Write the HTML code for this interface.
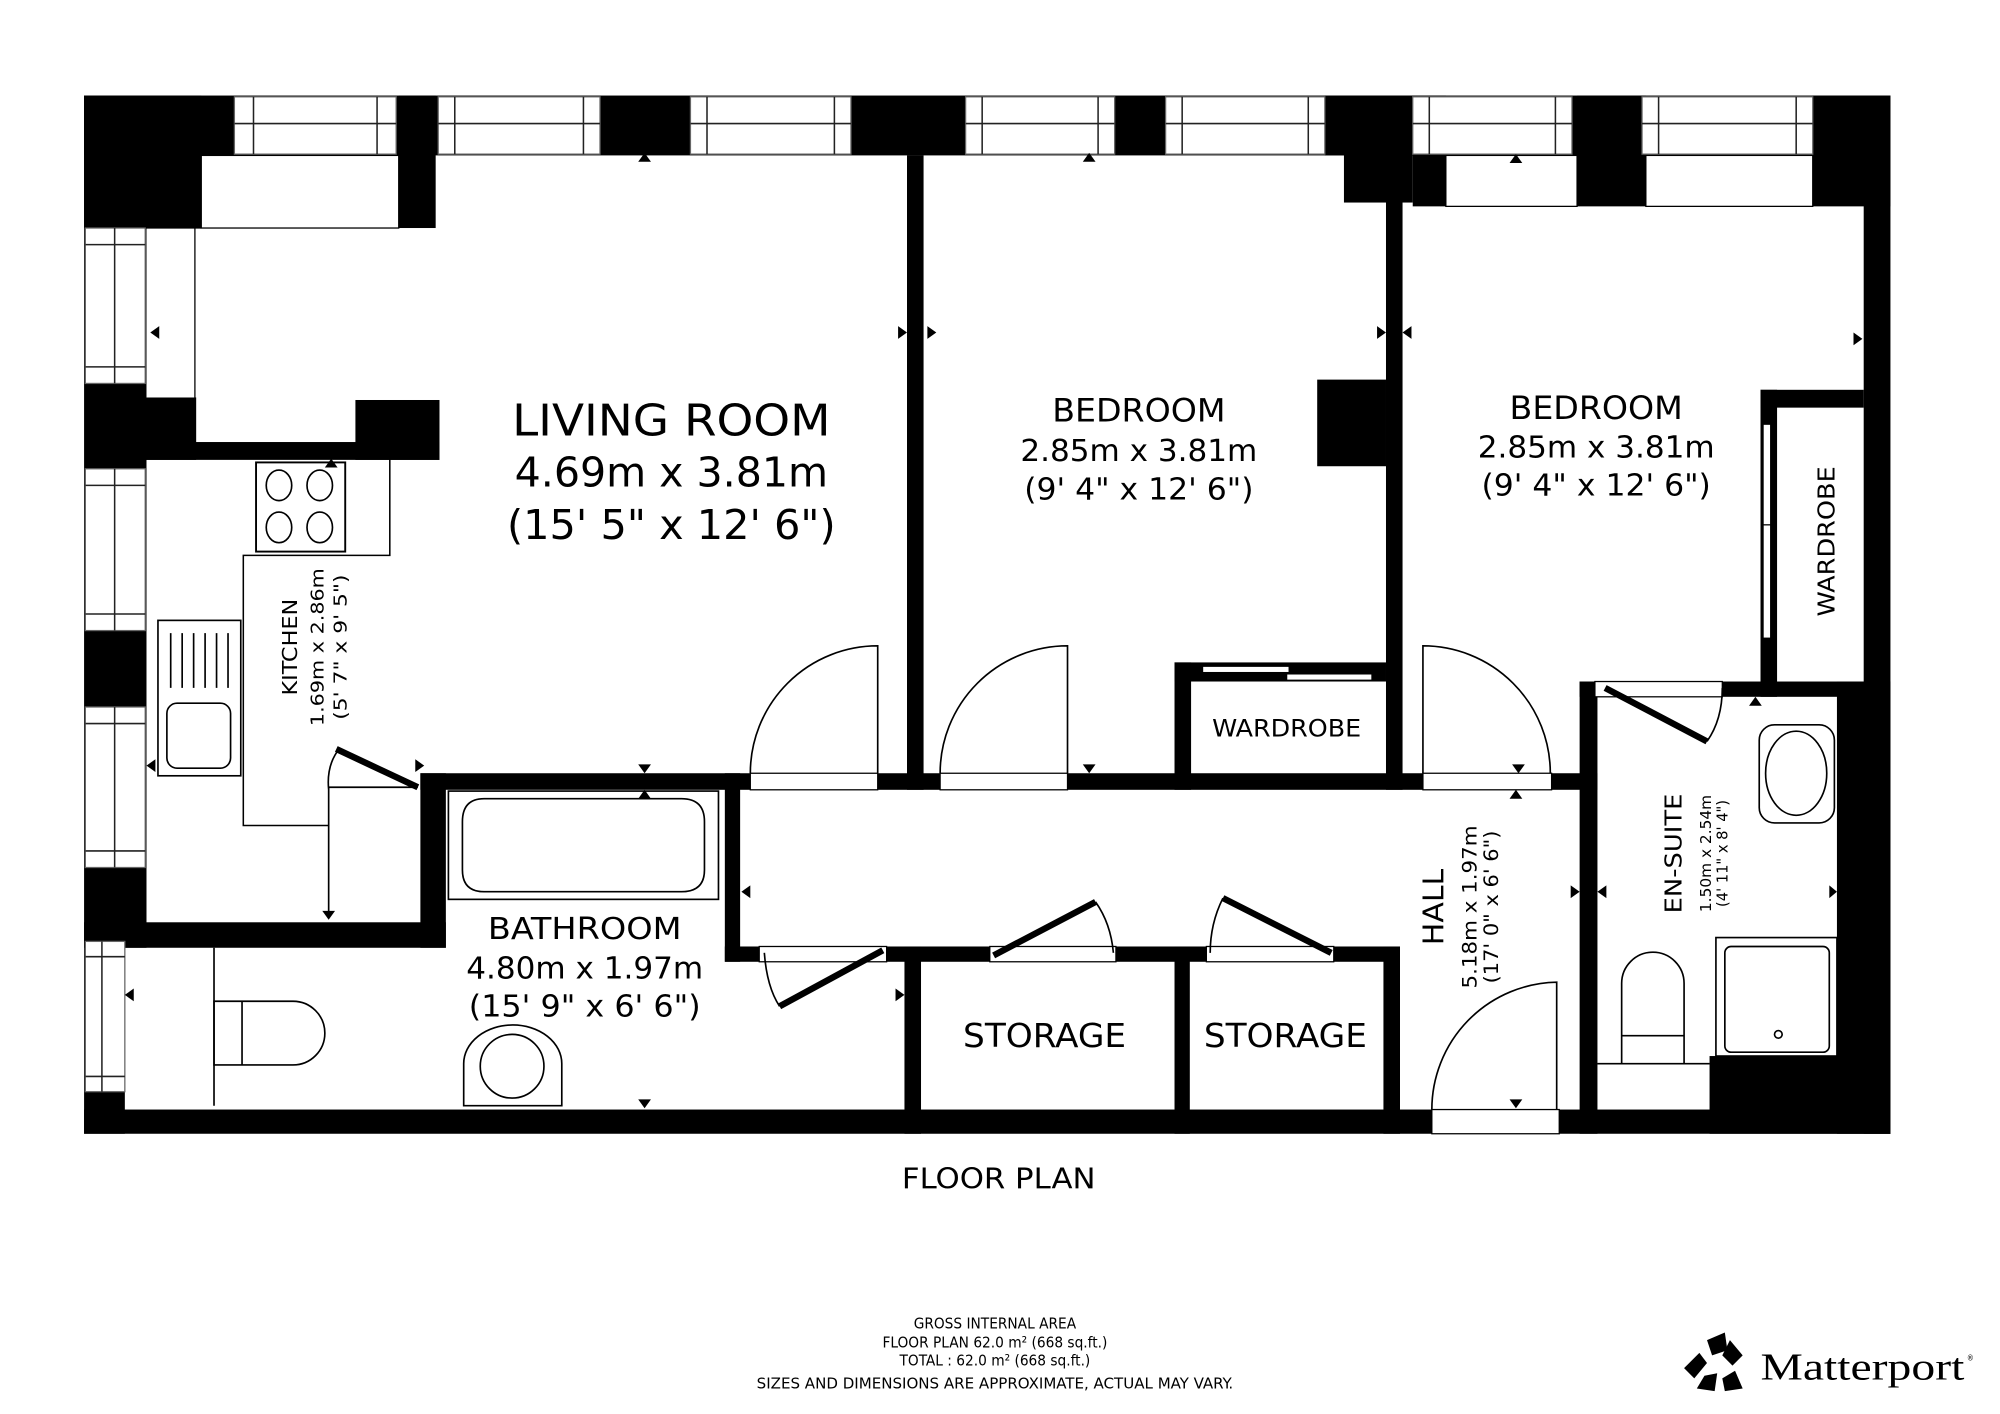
<!DOCTYPE html>
<html><head><meta charset="utf-8"><style>
html,body{margin:0;padding:0;background:#fff}
svg{display:block}
text{font-family:"DejaVu Sans Condensed","Liberation Sans",sans-serif;fill:#000}
</style></head><body>
<svg width="2000" height="1414" viewBox="0 0 1570 1110" preserveAspectRatio="none" xmlns="http://www.w3.org/2000/svg">
<rect width="1570" height="1110" fill="#fff"/>
<g fill="#000">
<rect x="66" y="75" width="1418" height="47"/>
<rect x="66" y="75" width="49" height="669"/>
<rect x="66" y="739" width="32" height="151"/>
<rect x="66" y="75" width="92" height="104"/>
<rect x="313" y="75" width="29" height="104"/>
<rect x="115" y="312" width="39" height="49"/>
<rect x="115" y="347" width="230" height="14"/>
<rect x="279" y="314" width="66" height="47"/>
<rect x="66" y="724" width="284" height="20"/>
<rect x="330" y="607" width="20" height="137"/>
<rect x="330" y="607" width="924" height="13"/>
<rect x="569" y="607" width="12" height="148"/>
<rect x="569" y="743" width="530" height="12"/>
<rect x="710" y="743" width="13" height="147"/>
<rect x="922" y="743" width="12" height="147"/>
<rect x="1086" y="743" width="13" height="147"/>
<rect x="66" y="871" width="1418" height="19"/>
<rect x="712" y="122" width="13" height="498"/>
<rect x="1040" y="75" width="69" height="47"/>
<rect x="1055" y="75" width="54" height="84"/>
<rect x="1088" y="140" width="13" height="480"/>
<rect x="1034" y="298" width="54" height="68"/>
<rect x="922" y="520" width="13" height="100"/>
<rect x="922" y="520" width="166" height="15"/>
<rect x="1109" y="75" width="26" height="87"/>
<rect x="1238" y="75" width="54" height="87"/>
<rect x="1423" y="75" width="61" height="87"/>
<rect x="1463" y="75" width="21" height="815"/>
<rect x="1382" y="306" width="81" height="14"/>
<rect x="1382" y="306" width="13" height="241"/>
<rect x="1240" y="535" width="244" height="12"/>
<rect x="1240" y="535" width="14" height="355"/>
<rect x="1442" y="535" width="42" height="355"/>
<rect x="1342" y="829" width="142" height="61"/>
</g>
<g fill="#fff" stroke="#000" stroke-width="1">
<rect x="158" y="122" width="155" height="57"/>
<rect x="1135" y="122" width="103" height="40"/>
<rect x="1292" y="122" width="131" height="40"/>
<rect x="589" y="607" width="100" height="13"/>
<rect x="738" y="607" width="100" height="13"/>
<rect x="1117" y="607" width="101" height="13"/>
<rect x="596" y="743" width="100" height="12"/>
<rect x="777" y="743" width="99" height="12"/>
<rect x="947" y="743" width="100" height="12"/>
<rect x="1124" y="871" width="100" height="19"/>
<rect x="1252" y="535" width="100" height="12"/>
<rect x="944" y="523" width="68" height="5"/>
<rect x="1010" y="529" width="67" height="5"/>
<rect x="1384" y="333" width="6" height="80"/>
<rect x="1384" y="412" width="6" height="89"/>
</g>
<rect x="115" y="179" width="38" height="133" fill="#fff"/>
<line x1="153" y1="179" x2="153" y2="347" stroke="#000" stroke-width="1"/>
<line x1="115" y1="179" x2="158" y2="179" stroke="#000" stroke-width="1"/>
<g fill="#fff" stroke="#666" stroke-width="1">
<rect x="184" y="76" width="127" height="45"/><rect x="344" y="76" width="127" height="45"/><rect x="542" y="76" width="126" height="45"/>
<rect x="758" y="76" width="117" height="45"/><rect x="915" y="76" width="125" height="45"/><rect x="1109" y="76" width="125" height="45"/><rect x="1289" y="76" width="134" height="45"/>
<rect x="67" y="179" width="47" height="122"/><rect x="67" y="368" width="47" height="127"/><rect x="67" y="555" width="47" height="126"/><rect x="67" y="739" width="31" height="118"/>
</g>
<g stroke="#222" stroke-width="1.2" fill="none">
<path d="M184,97H311M199,76V121M296,76V121M344,97H471M357,76V121M458,76V121M542,97H668M555,76V121M655,76V121M758,97H875M771,76V121M862,76V121M915,97H1040M928,76V121M1027,76V121M1109,97H1234M1122,76V121M1221,76V121M1289,97H1423M1302,76V121M1410,76V121"/>
<path d="M90,179V301M67,192H114M67,288H114M90,368V495M67,381H114M67,482H114M90,555V681M67,568H114M67,668H114M80,739V857M67,751H98M67,845H98"/>
</g>
<path d="M115,360H306V436H191V648H258" fill="none" stroke="#000" stroke-width="1.2"/>
<rect x="201" y="363" width="70" height="70" fill="#fff" stroke="#000" stroke-width="1.5"/>
<g fill="none" stroke="#000" stroke-width="1.3">
<ellipse cx="219" cy="381" rx="10" ry="12"/><ellipse cx="251" cy="381" rx="10" ry="12"/><ellipse cx="219" cy="414" rx="10" ry="12"/><ellipse cx="251" cy="414" rx="10" ry="12"/>
<rect x="124" y="487" width="65" height="122"/><rect x="131" y="552" width="50" height="51" rx="8"/>
<path d="M134,497V540M143,497V540M152,497V540M161,497V540M170,497V540M179,497V540"/>
</g>
<g fill="none" stroke="#000" stroke-width="1.3">
<path d="M689,607V507A100,100 0 0 0 589,607"/>
<path d="M838,607V507A100,100 0 0 0 738,607"/>
<path d="M1117,607V507A100,100 0 0 1 1217,607"/>
<path d="M1222,871V771A100,100 0 0 0 1124,871"/>
<path d="M267,587Q256,600 258,620M258,618H328M258,618V720"/>
<path d="M600,748Q602,775 612,790"/>
<path d="M860,708Q872,725 874,748"/>
<path d="M960,705Q950,725 950,748"/>
<path d="M1340,582Q1352,565 1352,540"/>
</g>
<g stroke="#000" stroke-width="5">
<line x1="328" y1="618" x2="264" y2="588"/>
<line x1="693" y1="746" x2="612" y2="790"/>
<line x1="780" y1="750" x2="860" y2="708"/>
<line x1="1045" y1="748" x2="960" y2="705"/>
<line x1="1260" y1="540" x2="1340" y2="582"/>
</g>
<g fill="none" stroke="#000" stroke-width="1.3">
<rect x="352" y="621" width="212" height="85"/>
<path d="M380,627H535Q553,627 553,645V683Q553,700 535,700H380Q363,700 363,683V645Q363,627 380,627Z"/>
<path d="M168,744V868"/>
<path d="M168,786H230A25,25 0 0 1 230,836H168ZM190,786V836"/>
<path d="M364,868V835A38,30 0 0 1 441,835V868Z"/>
<circle cx="402" cy="837" r="25"/>
<path d="M1273,835V772A24,24 0 0 1 1322,772V835ZM1273,813H1322M1254,835H1342"/>
<rect x="1347" y="736" width="95" height="93"/>
<rect x="1354" y="743" width="82" height="83" rx="5"/>
<circle cx="1396" cy="812" r="3"/>
<rect x="1381" y="569" width="59" height="77" rx="12"/>
<ellipse cx="1410" cy="607" rx="24" ry="33"/>
</g>
<g fill="#000">
<path d="M501,127L506,120L511,127Z"/><path d="M850,127L855,120L860,127Z"/><path d="M1185,128L1190,121L1195,128Z"/>
<path d="M125,256L118,261L125,266Z"/><path d="M705,256L712,261L705,266Z"/><path d="M728,256L735,261L728,266Z"/>
<path d="M1081,256L1088,261L1081,266Z"/><path d="M1108,256L1101,261L1108,266Z"/>
<path d="M1455,261L1462,266L1455,271Z"/><path d="M255,367L260,360L265,367Z"/>
<path d="M122,596L115,601L122,606Z"/><path d="M326,596L333,601L326,606Z"/>
<path d="M501,600L506,607L511,600Z"/><path d="M501,627L506,620L511,627Z"/>
<path d="M850,600L855,607L860,600Z"/><path d="M1187,600L1192,607L1197,600Z"/><path d="M1185,627L1190,620L1195,627Z"/>
<path d="M253,715L258,722L263,715Z"/>
<path d="M105,776L98,781L105,786Z"/><path d="M589,695L582,700L589,705Z"/><path d="M703,776L710,781L703,786Z"/>
<path d="M501,863L506,870L511,863Z"/><path d="M1185,863L1190,870L1195,863Z"/>
<path d="M1233,695L1240,700L1233,705Z"/><path d="M1261,695L1254,700L1261,705Z"/><path d="M1436,695L1442,700L1436,705Z"/>
<path d="M1373,554L1378,547L1383,554Z"/>
</g>
<g text-anchor="middle">
<text x="527" y="342" font-size="34" textLength="250" lengthAdjust="spacingAndGlyphs">LIVING ROOM</text>
<text x="527" y="382" font-size="32" textLength="246" lengthAdjust="spacingAndGlyphs">4.69m x 3.81m</text>
<text x="527" y="423" font-size="32" textLength="258" lengthAdjust="spacingAndGlyphs">(15' 5" x 12' 6")</text>
<text x="894" y="331" font-size="25" textLength="136" lengthAdjust="spacingAndGlyphs">BEDROOM</text>
<text x="894" y="362" font-size="24" textLength="186" lengthAdjust="spacingAndGlyphs">2.85m x 3.81m</text>
<text x="894" y="392" font-size="24" textLength="180" lengthAdjust="spacingAndGlyphs">(9' 4" x 12' 6")</text>
<text x="1253" y="329" font-size="25" textLength="136" lengthAdjust="spacingAndGlyphs">BEDROOM</text>
<text x="1253" y="359" font-size="24" textLength="186" lengthAdjust="spacingAndGlyphs">2.85m x 3.81m</text>
<text x="1253" y="389" font-size="24" textLength="180" lengthAdjust="spacingAndGlyphs">(9' 4" x 12' 6")</text>
<text x="1010" y="578" font-size="19" textLength="117" lengthAdjust="spacingAndGlyphs">WARDROBE</text>
<text x="459" y="737" font-size="24" textLength="152" lengthAdjust="spacingAndGlyphs">BATHROOM</text>
<text x="459" y="768" font-size="24" textLength="186" lengthAdjust="spacingAndGlyphs">4.80m x 1.97m</text>
<text x="459" y="798" font-size="24" textLength="182" lengthAdjust="spacingAndGlyphs">(15' 9" x 6' 6")</text>
<text x="820" y="822" font-size="26" textLength="128" lengthAdjust="spacingAndGlyphs">STORAGE</text>
<text x="1009" y="822" font-size="26" textLength="128" lengthAdjust="spacingAndGlyphs">STORAGE</text>
<text x="784" y="933" font-size="22" textLength="152" lengthAdjust="spacingAndGlyphs">FLOOR PLAN</text>
<text transform="translate(1440,425) rotate(-90)" font-size="18" textLength="118" lengthAdjust="spacingAndGlyphs">WARDROBE</text>
<text transform="translate(233,508) rotate(-90)" font-size="16" textLength="76" lengthAdjust="spacingAndGlyphs">KITCHEN</text>
<text transform="translate(254,508) rotate(-90)" font-size="14" textLength="124" lengthAdjust="spacingAndGlyphs">1.69m x 2.86m</text>
<text transform="translate(272,508) rotate(-90)" font-size="14" textLength="114" lengthAdjust="spacingAndGlyphs">(5' 7" x 9' 5")</text>
<text transform="translate(1133,712) rotate(-90)" font-size="22" textLength="60" lengthAdjust="spacingAndGlyphs">HALL</text>
<text transform="translate(1159,712) rotate(-90)" font-size="15" textLength="128" lengthAdjust="spacingAndGlyphs">5.18m x 1.97m</text>
<text transform="translate(1176,712) rotate(-90)" font-size="15" textLength="120" lengthAdjust="spacingAndGlyphs">(17' 0" x 6' 6")</text>
<text transform="translate(1320,670) rotate(-90)" font-size="18" textLength="94" lengthAdjust="spacingAndGlyphs">EN-SUITE</text>
<text transform="translate(1343,670) rotate(-90)" font-size="12" textLength="92" lengthAdjust="spacingAndGlyphs">1.50m x 2.54m</text>
<text transform="translate(1356,670) rotate(-90)" font-size="12" textLength="84" lengthAdjust="spacingAndGlyphs">(4' 11" x 8' 4")</text>
<text x="781" y="1043" font-size="12" fill="#333">GROSS INTERNAL AREA</text>
<text x="781" y="1058" font-size="12">FLOOR PLAN 62.0 m² (668 sq.ft.)</text>
<text x="781" y="1072" font-size="12">TOTAL :  62.0 m² (668 sq.ft.)</text>
<text x="781" y="1090" font-size="12" fill="#555" textLength="374" lengthAdjust="spacingAndGlyphs">SIZES AND DIMENSIONS ARE APPROXIMATE, ACTUAL MAY VARY.</text>
</g>
<g fill="#000">
<polygon points="1340,1052 1354,1046 1356,1060 1344,1064"/>
<polygon points="1358,1052 1368,1064 1360,1072 1352,1064"/>
<polygon points="1362,1076 1368,1090 1354,1092 1352,1082"/>
<polygon points="1348,1078 1346,1092 1332,1090 1338,1080"/>
<polygon points="1322,1074 1334,1062 1340,1070 1330,1082"/>
</g>
<text x="1382" y="1083" font-size="30" textLength="160" lengthAdjust="spacingAndGlyphs" style="font-family:'Liberation Serif',serif">Matterport</text>
<text x="1544" y="1068" font-size="6">®</text>
</svg>
</body></html>
